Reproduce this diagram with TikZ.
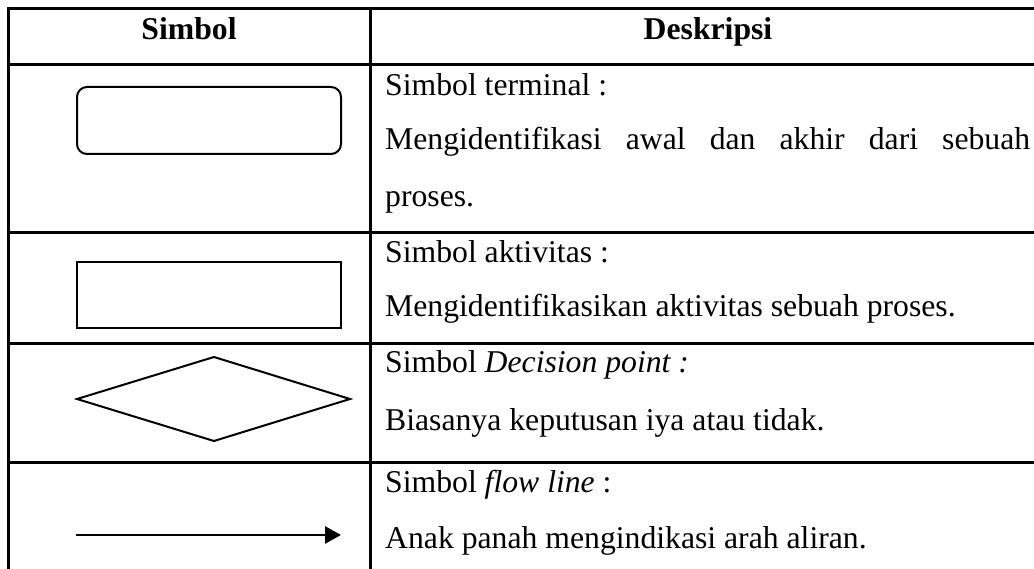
\documentclass[tikz,border=0pt]{standalone}
\usepackage{fontspec}
\setmainfont{Liberation Serif}
\usetikzlibrary{arrows.meta}
\begin{document}
\begin{tikzpicture}[x=1pt,y=-1pt,
  rule/.style={line width=3pt},
  shapeline/.style={line width=2pt},
  cell/.style={anchor=base west,inner sep=0pt,font=\fontsize{31.7}{38}\selectfont},
  head/.style={anchor=base,inner sep=0pt,font=\fontsize{31.7}{38}\selectfont\bfseries}]
\useasboundingbox (0,0) rectangle (1034,569);
\fill[white] (0,0) rectangle (1034,569);

% table rules
\foreach \y in {9,65,233,344,462} \draw[rule] (8.5,\y) -- (1034,\y);
\draw[rule] (8.5,7.5) -- (8.5,569);
\draw[rule] (370,7.5) -- (370,569);

% header
\node[head] (hsym) at (189,40) {Simbol};
\node[head] (hdesc) at (708,40) {Deskripsi};

% row 1: terminal
\draw[shapeline,rounded corners=10pt] (77,87) rectangle (341,154);
\node[cell] (t1) at (385,96) {Simbol terminal :};
\node[cell] (t2) at (385,150) {\makebox[645pt][s]{Mengidentifikasi\hfill awal\hfill dan\hfill akhir\hfill dari\hfill sebuah}};
\node[cell] (t3) at (385,207) {proses.};

% row 2: activity
\draw[shapeline] (77,262) rectangle (341,328);
\node[cell] (a1) at (385,263) {Simbol aktivitas :};
\node[cell] (a2) at (385,317) {Mengidentifikasikan aktivitas sebuah proses.};

% row 3: decision
\coordinate (dt) at (214,357);
\coordinate (dr) at (350,399);
\coordinate (db) at (214,441);
\coordinate (dl) at (77,399);
\draw[shapeline,line join=miter] (dt) -- (dr) -- (db) -- (dl) -- cycle;
\node[cell] (d1) at (385,373) {Simbol \textit{Decision point :}};
\node[cell] (d2) at (385,430) {Biasanya keputusan iya atau tidak.};

% row 4: flow line
\coordinate (fa) at (76,535);
\coordinate (fb) at (341,535);
\draw[line width=2.8pt,-{Triangle[length=16pt,width=17pt]}] (fa) -- (fb);
\node[cell] (f1) at (385,492) {Simbol \textit{flow line} :};
\node[cell] (f2) at (385,548) {Anak panah mengindikasi arah aliran.};
\end{tikzpicture}
\end{document}
